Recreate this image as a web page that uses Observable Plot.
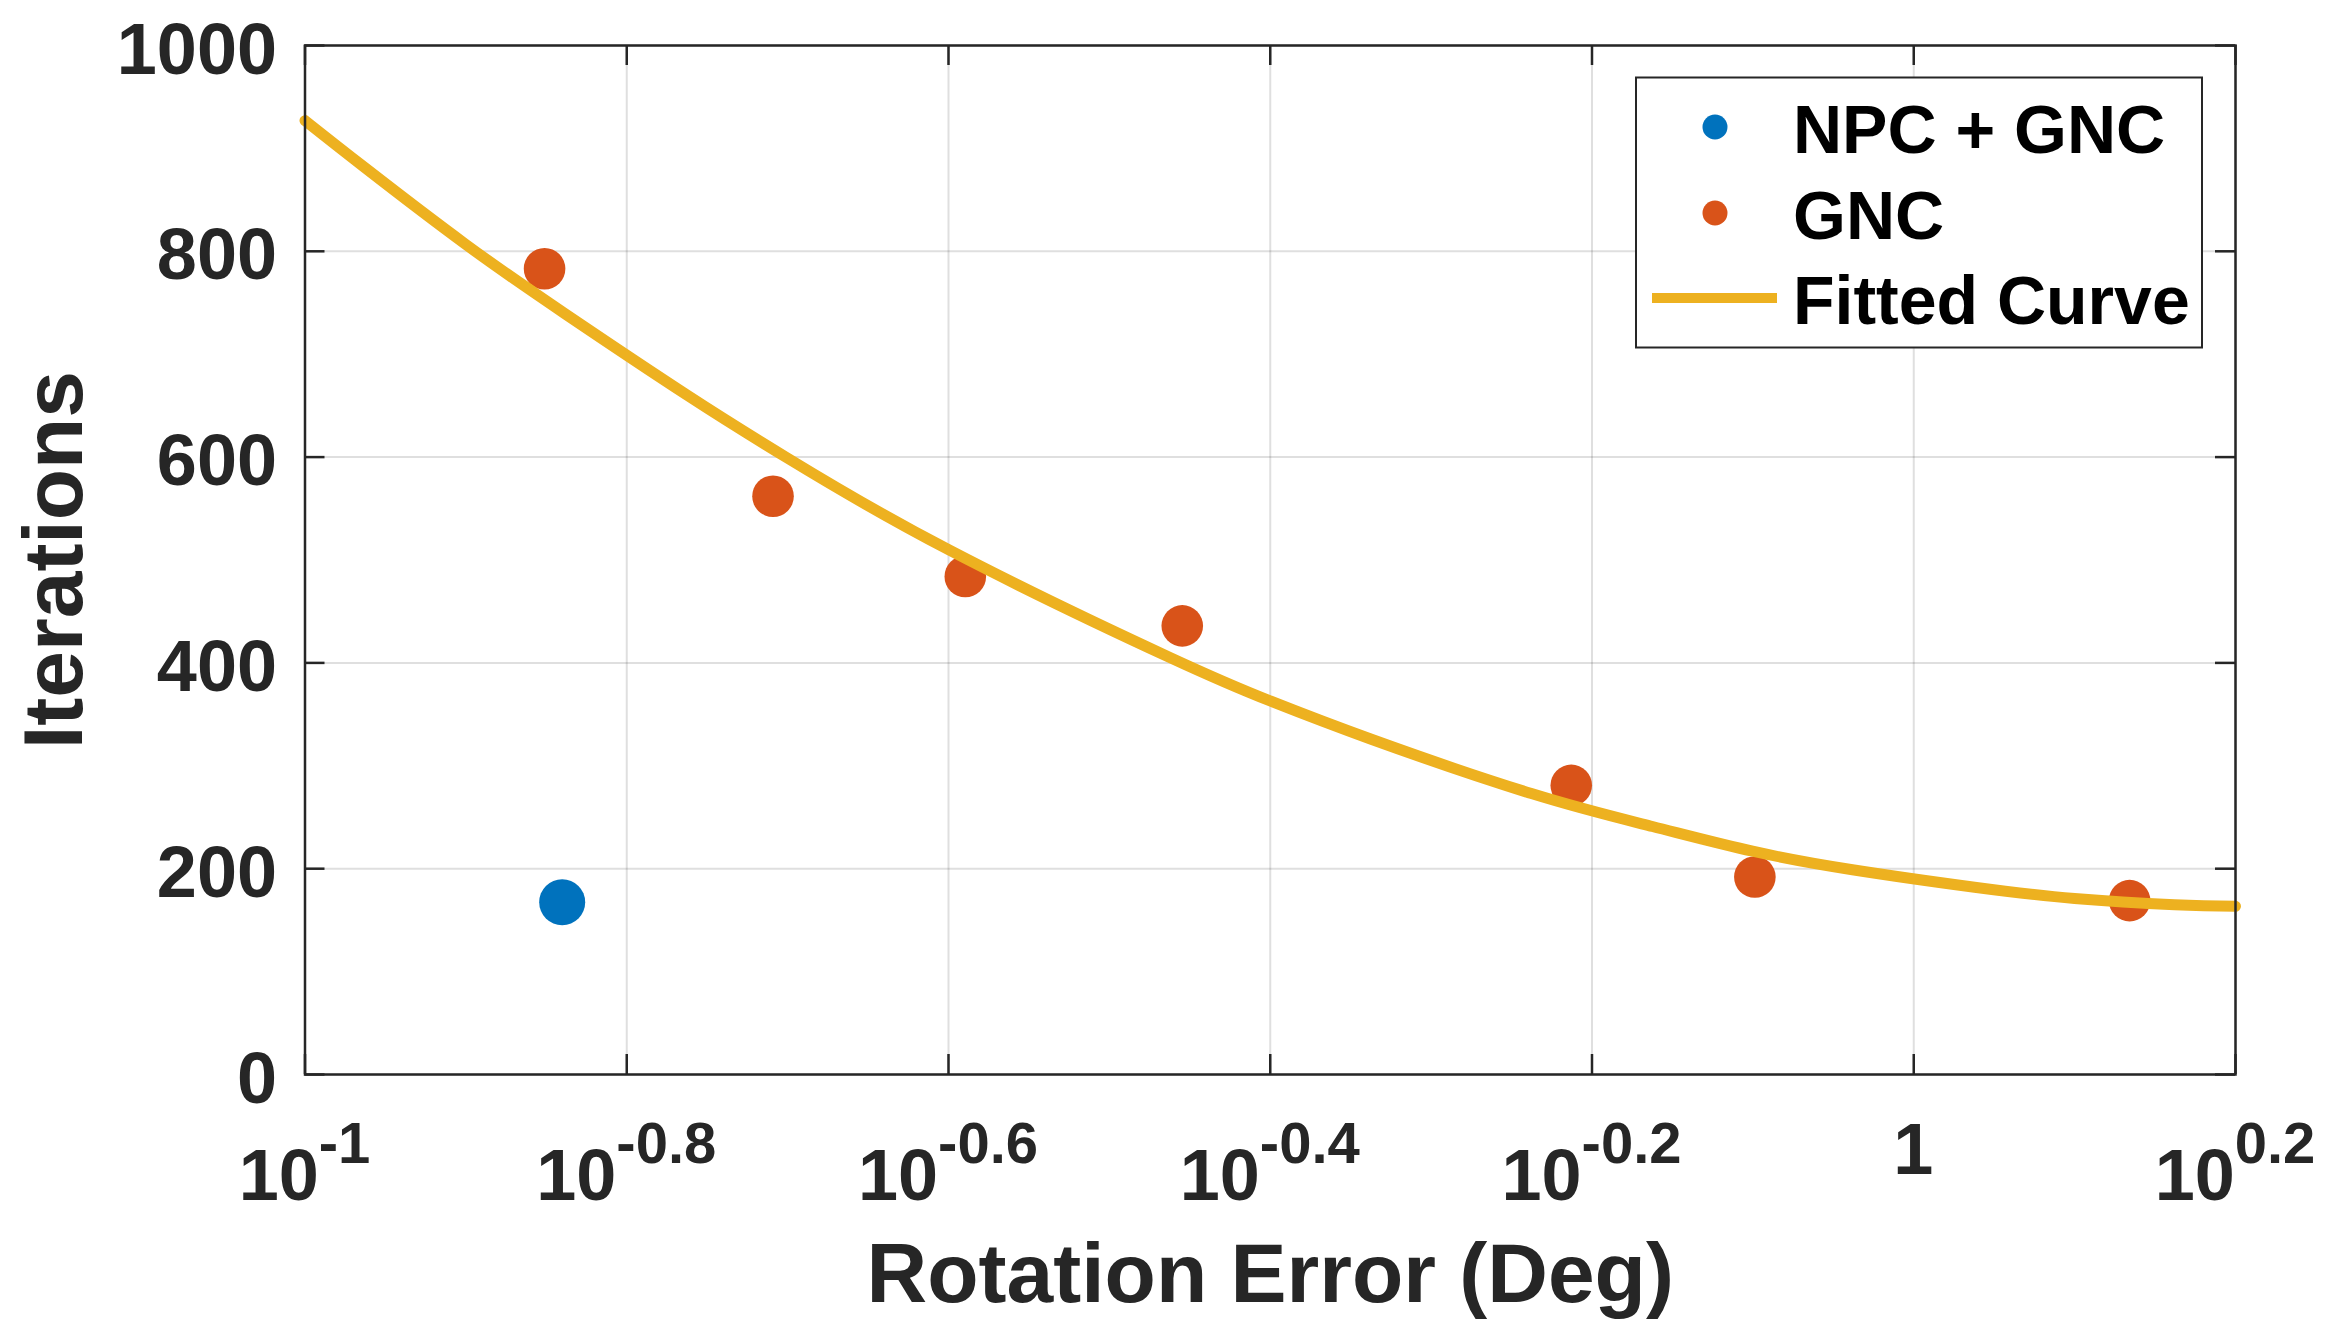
<!DOCTYPE html>
<html>
<head>
<meta charset="utf-8">
<script src="https://cdn.jsdelivr.net/npm/d3@7"></script>
<script src="https://cdn.jsdelivr.net/npm/@observablehq/plot@0.6"></script>
<style>
  html, body { margin: 0; padding: 0; background: #ffffff; }
  #chart svg { display: block; }
</style>
</head>
<body>
<div id="chart"></div>
<script>
// ---- data ----
const npcX = [0.1445];
const npcY = [167.5];

const gncX = [0.1409, 0.1954, 0.2573, 0.3510, 0.6125, 0.7966, 1.362];
const gncY = [783, 562, 484, 436, 281, 192, 169];

const fitX = [0.1, 0.1090, 0.1258, 0.1452, 0.1729, 0.1995, 0.2512, 0.3451, 0.3981,
              0.4596, 0.5786, 0.6880, 0.7940, 0.9160, 1.0909, 1.2589, 1.4526, 1.5849];
const fitY = [927, 881, 807, 739, 660, 599, 510, 405, 363,
              326, 273, 241, 217, 199, 182, 171, 165, 163.5];

const xTickExponents = [-1, -0.8, -0.6, -0.4, -0.2, 0, 0.2];
const xTickBase = ["10", "10", "10", "10", "10", "1", "10"];
const xTickSup  = ["-1", "-0.8", "-0.6", "-0.4", "-0.2", "", "0.2"];
const yTicks = [0, 200, 400, 600, 800, 1000];

const seriesNames = ["NPC + GNC", "GNC", "Fitted Curve"];
const seriesColors = ["#0072BD", "#D95319", "#EDB120"];

const xLabel = "Rotation Error (Deg)";
const yLabel = "Iterations";

// ---- tables ----
const xTicks = xTickExponents.map(e => Math.pow(10, e));
const npc = npcX.map((x, i) => ({x, y: npcY[i]}));
const gnc = gncX.map((x, i) => ({x, y: gncY[i]}));
const fit = fitX.map((x, i) => ({x, y: fitY[i]}));

const W = 2352, H = 1319;
const mL = 304.5, mR = 117, mT = 45, mB = 245;
const fw = W - mL - mR, fh = H - mT - mB;
const ink = "#262626";
const font = "'Liberation Sans', Arial, Helvetica, sans-serif";

const chart = Plot.plot({
  width: W,
  height: H,
  marginLeft: mL,
  marginRight: mR,
  marginTop: mT,
  marginBottom: mB,
  style: {background: "#ffffff", fontFamily: font, fontWeight: "bold", color: ink},
  x: {type: "log", domain: [Math.pow(10, -1), Math.pow(10, 0.2)], axis: null},
  y: {type: "linear", domain: [0, 1000], axis: null},
  marks: [
    Plot.gridX(xTicks, {stroke: ink, strokeOpacity: 0.15, strokeWidth: 2}),
    Plot.gridY(yTicks, {stroke: ink, strokeOpacity: 0.15, strokeWidth: 2}),
    Plot.dot(npc, {x: "x", y: "y", r: 23, fill: seriesColors[0], stroke: "none"}),
    Plot.dot(gnc, {x: "x", y: "y", r: 20.8, fill: seriesColors[1], stroke: "none"}),
    Plot.line(fit, {x: "x", y: "y", stroke: seriesColors[2], strokeWidth: 11, curve: "natural"}),
    // inward ticks (box style)
    Plot.tickX(xTicks, {x: d => d, stroke: ink, strokeWidth: 2.5, insetTop: fh - 20}),
    Plot.tickX(xTicks, {x: d => d, stroke: ink, strokeWidth: 2.5, insetBottom: fh - 20}),
    Plot.tickY(yTicks, {y: d => d, stroke: ink, strokeWidth: 2.5, insetRight: fw - 20}),
    Plot.tickY(yTicks, {y: d => d, stroke: ink, strokeWidth: 2.5, insetLeft: fw - 20}),
    Plot.frame({stroke: ink, strokeWidth: 2.5}),
    Plot.axisY(yTicks, {anchor: "left", tickSize: 0, tickPadding: 28, fontSize: 72, fontWeight: "bold",
                        fill: ink, label: null, dy: 5, tickFormat: d => String(d)}),
    Plot.text([xLabel], {text: d => d, frameAnchor: "bottom", lineAnchor: "bottom", textAnchor: "middle",
                         dy: 227, fontSize: 84, fontWeight: "bold", fill: ink}),
    Plot.text([yLabel], {text: d => d, frameAnchor: "left", lineAnchor: "bottom", textAnchor: "middle",
                         rotate: -90, dx: 81 - mL, fontSize: 84, fontWeight: "bold", fill: ink})
  ]
});

document.getElementById("chart").appendChild(chart);

// ---- x tick labels with superscripts, positioned by the plot's x scale ----
const xs = chart.scale("x");
const svg = d3.select(chart);
const gx = svg.append("g")
  .attr("font-family", font).attr("font-weight", "bold")
  .attr("fill", ink).attr("text-anchor", "middle");
xTicks.forEach((v, i) => {
  const px = xs.apply(v);
  const t = gx.append("text").attr("x", px);
  if (xTickSup[i]) {
    t.attr("y", 1200).attr("font-size", 72);
    t.append("tspan").text(xTickBase[i]);
    t.append("tspan").attr("dy", -37).attr("font-size", 58).text(xTickSup[i]);
  } else {
    t.attr("y", 1174).attr("font-size", 72).text(xTickBase[i]);
  }
});

// ---- legend ----
const lg = svg.append("g").attr("font-family", font).attr("font-weight", "bold")
  .attr("text-anchor", "start");
lg.append("rect").attr("x", 1636).attr("y", 77.5).attr("width", 566).attr("height", 270)
  .attr("fill", "#ffffff").attr("stroke", ink).attr("stroke-width", 2);
const rowsY = [127, 213, 298];
const baseY = [153, 239, 324];
lg.append("circle").attr("cx", 1715).attr("cy", rowsY[0]).attr("r", 12.5).attr("fill", seriesColors[0]);
lg.append("circle").attr("cx", 1715).attr("cy", rowsY[1]).attr("r", 12.5).attr("fill", seriesColors[1]);
lg.append("line").attr("x1", 1652).attr("x2", 1777).attr("y1", rowsY[2]).attr("y2", rowsY[2])
  .attr("stroke", seriesColors[2]).attr("stroke-width", 10);
seriesNames.forEach((name, i) => {
  lg.append("text").attr("x", 1793).attr("y", baseY[i]).attr("font-size", 68)
    .attr("text-anchor", "start").attr("fill", "#000000").text(name);
});
</script>
</body>
</html>
